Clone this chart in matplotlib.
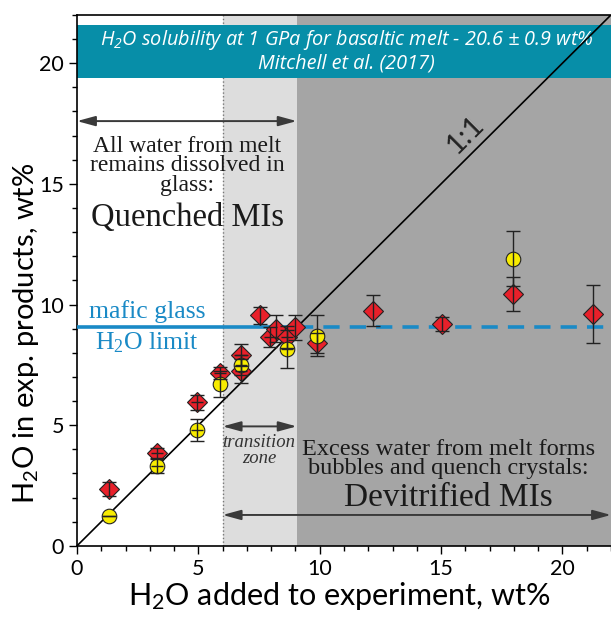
"""
H2O added vs H2O measured in experimental products
"""
import matplotlib
matplotlib.use('Agg')
import matplotlib.pyplot as plt
from matplotlib.ticker import MultipleLocator

# red diamonds
red_x = [1.3, 3.3, 4.95, 5.9, 6.75, 6.75, 7.55, 7.95, 8.2, 8.65, 9.0, 9.9, 12.2, 15.05, 17.95, 21.25]
red_y = [2.35, 3.85, 5.95, 7.15, 7.9, 7.25, 9.55, 8.65, 9.0, 8.65, 9.05, 8.4, 9.75, 9.2, 10.45, 9.6]
red_err = [0.3, 0.2, 0.3, 0.25, 0.45, 0.5, 0.35, 0.4, 0.55, 0.45, 0.5, 0.4, 0.65, 0.3, 0.7, 1.2]
red_xerr = [0, 0.25, 0.25, 0.25, 0.25, 0.25, 0, 0.25, 0, 0.25, 0, 0, 0, 0, 0, 0]

# yellow circles
yel_x = [1.3, 3.3, 4.95, 5.9, 6.75, 8.65, 9.9, 17.95]
yel_y = [1.25, 3.3, 4.8, 6.7, 7.5, 8.15, 8.7, 11.9]
yel_err = [0, 0.3, 0.45, 0.55, 0.4, 0.8, 0.85, 1.15]
yel_xerr = [0, 0.25, 0.25, 0, 0.25, 0.25, 0, 0]

glass_limit = 9.05
transition_start = 6.0
solubility_lo = 19.4
solubility_hi = 21.6

plt.rcParams['font.family'] = ['Lato', 'DejaVu Sans']
plt.rcParams['mathtext.default'] = 'regular'

fig = plt.figure(figsize=(6.11, 6.21), dpi=100)
ax = fig.add_axes([0.126, 0.121, 0.874, 0.855])
ax.set_xlim(0, 22)
ax.set_ylim(0, 22)

# shaded zones
ax.axvspan(transition_start, glass_limit, color='#dddddd', zorder=0, lw=0)
ax.axvspan(glass_limit, 22, color='#a5a5a5', zorder=0, lw=0)
ax.axvline(transition_start, color='#777777', ls=':', lw=1, zorder=1)

# solubility banner
ax.axhspan(solubility_lo, solubility_hi, color='#078ea8', zorder=2, lw=0)
ax.text(11.1, 20.95, 'H$_2$O solubility at 1 GPa for basaltic melt - 20.6 \u00b1 0.9 wt%',
        ha='center', va='center', color='white', style='italic', fontsize=14.3,
        family=['Open Sans', 'DejaVu Sans'], zorder=3)
ax.text(11.1, 20.0, 'Mitchell et al. (2017)', ha='center', va='center', color='white',
        style='italic', fontsize=14.3, family=['Open Sans', 'DejaVu Sans'], zorder=3)

# 1:1 line
ax.plot([0, 22], [0, 22], color='black', lw=1.2, zorder=4)
ax.text(16.0, 17.05, '1:1', rotation=45, ha='center', va='center', fontsize=21,
        color='#222222', zorder=4)

# mafic glass H2O limit
ax.plot([0, glass_limit], [glass_limit, glass_limit], color='#1a8ac6', lw=2.6, zorder=3)
ax.plot([glass_limit, 22], [glass_limit, glass_limit], color='#1a8ac6', lw=2.6,
        dashes=(4.5, 2.8), zorder=3)
ax.text(2.9, 9.7, 'mafic glass', ha='center', va='center', color='#1a8ac6',
        fontsize=18.5, family='Liberation Serif', zorder=5)
ax.text(2.9, 8.4, 'H$_2$O limit', ha='center', va='center', color='#1a8ac6',
        fontsize=18.5, family='Liberation Serif', zorder=5)

# zone arrows
arrow = dict(arrowstyle='<|-|>,head_length=1.1,head_width=0.3', color='#3a3a3a',
             lw=1.4, shrinkA=0, shrinkB=0)
ax.annotate('', xy=(0, 17.6), xytext=(glass_limit, 17.6), arrowprops=arrow, zorder=5)
ax.annotate('', xy=(transition_start, 4.95), xytext=(glass_limit, 4.95), arrowprops=arrow, zorder=5)
ax.annotate('', xy=(transition_start, 1.28), xytext=(22, 1.28), arrowprops=arrow, zorder=5)

ax.text(4.55, 15.75, 'All water from melt\nremains dissolved in\nglass:', ha='center', va='center',
        fontsize=17, family='Liberation Serif', color='#1a1a1a', linespacing=0.92, zorder=5)
ax.text(4.55, 13.6, 'Quenched MIs', ha='center', va='center', fontsize=23.5,
        family='Liberation Serif', color='#1a1a1a', zorder=5)
ax.text(7.5, 3.95, 'transition\nzone', ha='center', va='center', fontsize=13.5,
        family='Liberation Serif', style='italic', color='#333333', linespacing=0.9, zorder=5)
ax.text(15.3, 3.6, 'Excess water from melt forms\nbubbles and quench crystals:', ha='center',
        va='center', fontsize=17.5, family='Liberation Serif', color='#1a1a1a',
        linespacing=0.9, zorder=5)
ax.text(15.3, 2.0, 'Devitrified MIs', ha='center', va='center', fontsize=24,
        family='Liberation Serif', color='#1a1a1a', zorder=5)

# data
ax.plot(red_x, red_y, 'D', ms=10.5, mfc='#e8202a', mec='#222222', mew=0.8, zorder=6)
ax.plot(yel_x, yel_y, 'o', ms=10.5, mfc='#f8ec00', mec='#222222', mew=0.8, zorder=6)
ax.errorbar(red_x, red_y, yerr=red_err, fmt='none', ecolor='#222222',
            elinewidth=1, capsize=5, capthick=1, zorder=7)
ax.errorbar(yel_x, yel_y, yerr=yel_err, fmt='none', ecolor='#222222',
            elinewidth=1, capsize=5, capthick=1, zorder=7)
ax.errorbar(red_x, red_y, xerr=red_xerr, fmt='none', ecolor='#222222',
            elinewidth=1, capsize=0, zorder=7)
ax.errorbar(yel_x, yel_y, xerr=yel_xerr, fmt='none', ecolor='#222222',
            elinewidth=1, capsize=0, zorder=7)

# axes
ax.xaxis.set_major_locator(MultipleLocator(5))
ax.yaxis.set_major_locator(MultipleLocator(5))
ax.xaxis.set_minor_locator(MultipleLocator(1))
ax.yaxis.set_minor_locator(MultipleLocator(1))
ax.tick_params(which='major', direction='out', length=6, width=1, labelsize=15.5)
ax.tick_params(which='minor', direction='out', length=3.5, width=1)
ax.spines['right'].set_visible(False)
for s in ['left', 'bottom', 'top']:
    ax.spines[s].set_linewidth(1.2)

ax.set_xlabel('H$_2$O added to experiment, wt%', fontsize=22)
ax.set_ylabel('H$_2$O in exp. products, wt%', fontsize=21)
ax.xaxis.set_label_coords(0.49, -0.065)
ax.yaxis.set_label_coords(-0.067, 0.40)

fig.savefig('out.png', dpi=100)
